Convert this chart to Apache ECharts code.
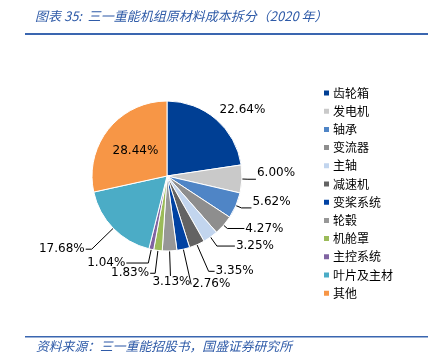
<!DOCTYPE html>
<html><head><meta charset="utf-8">
<script src="https://cdn.jsdelivr.net/npm/echarts@6/dist/echarts.min.js"></script>
<style>html,body{margin:0;padding:0;background:#fff}#c{width:436px;height:356px}</style>
</head><body><div id="c"></div>
<script>
const categories = ['齿轮箱','发电机','轴承','变流器','主轴','减速机','变桨系统','轮毂','机舱罩','主控系统','叶片及主材','其他'];
const values = [22.64, 6.00, 5.62, 4.27, 3.25, 3.35, 2.76, 3.13, 1.83, 1.04, 17.68, 28.44];
const colors = ['#003f94','#c9c9c9','#4f85c6','#8e8e8e','#c2d5ee','#636363','#0042a3','#979797','#9bbb59','#8064a2','#4bacc6','#f79646'];
const titleText = '图表 35:  三一重能机组原材料成本拆分（2020 年）';
const sourceText = '资料来源：三一重能招股书，国盛证券研究所';

// leader line styling per slice: [length, length2]
const lineLens = [[4,0],[6,8],[6,10],[5,17],[11,18],[29,6],[36,0],[25,0],[23,5],[14,22],[30,6],[0,0]];
const vAlign = {0:'bottom', 1:'bottom', 2:'bottom', 7:'top'};

const chart = echarts.init(document.getElementById('c'), null, {renderer:'canvas'});
const data = categories.map((n,i)=>{
  const d = {name:n, value:values[i], itemStyle:{color:colors[i]},
    labelLine:{length:lineLens[i][0], length2:lineLens[i][1]}};
  if (i===11) { d.label = {position:'inside'}; d.labelLine={show:false}; }
  if (i===0) { d.labelLine.show = false; }
  return d;
});
chart.setOption({
  animation:false,
  graphic:[
    {type:'text', left:35, top:10, style:{text:titleText, fill:'#2f5ba8', font:'italic 13px "Noto Sans CJK SC"'}},
    {type:'rect', shape:{x:25,y:33,width:403,height:2}, style:{fill:'#3a66b0'}},
    {type:'rect', shape:{x:25,y:336,width:403,height:1.5}, style:{fill:'#3a66b0'}},
    {type:'text', left:36, top:340, style:{text:sourceText, fill:'#2f5ba8', font:'italic 12.8px "Noto Sans CJK SC"'}}
  ],
  legend:{
    orient:'vertical', left:317, top:81,
    itemWidth:7, itemHeight:7, itemGap:4.2, icon:'rect',
    textStyle:{fontFamily:'"Noto Sans CJK SC"', fontSize:12, color:'#000', lineHeight:14, padding:[0,0,0,-2]},
    data:categories
  },
  series:[{
    type:'pie', center:[167,176], radius:75, startAngle:90, clockwise:true,
    avoidLabelOverlap:false,
    label:{show:true, formatter:p=>p.value.toFixed(2)+'%', fontFamily:'DejaVu Sans', fontSize:12, color:'#000', distanceToLabelLine:1},
    labelLine:{show:true, lineStyle:{color:'#000', width:1}},
    labelLayout:function(p){
      const o = {};
      if (vAlign[p.dataIndex]) o.verticalAlign = vAlign[p.dataIndex];
      if (p.dataIndex===7) o.align = 'center';
      return o;
    },
    itemStyle:{borderColor:'#fff', borderWidth:1},
    data:data
  }]
});
</script></body></html>
